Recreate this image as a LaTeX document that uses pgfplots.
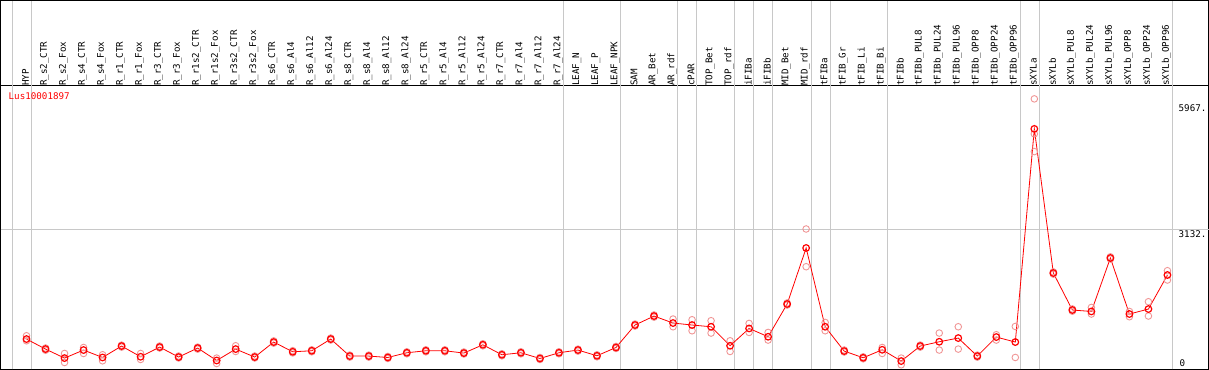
\documentclass[border=0pt]{standalone}
\usepackage{pgfplots}
\pgfplotsset{compat=1.18}
\usepackage{pgfplotstable}
\usepackage{fontspec}
\newfontfamily\mono{DejaVu Sans Mono}
\definecolor{meanred}{RGB}{255,0,0}
\definecolor{reppink}{RGB}{240,150,150}
\definecolor{gridgray}{RGB}{200,200,200}

\pgfplotstableread{
n v
1 652
2 426
3 223
4 404
5 237
6 494
7 253
8 471
9 246
10 449
11 169
12 426
13 246
14 584
15 365
16 388
17 652
18 268
19 268
20 237
21 343
22 388
23 388
24 336
25 523
26 298
27 343
28 214
29 343
30 404
31 275
32 462
33 968
34 1170
35 1013
36 968
37 929
38 501
39 891
40 704
41 1441
42 2704
43 929
44 381
45 230
46 410
47 156
48 494
49 591
50 674
51 268
52 697
53 584
54 5388
55 2140
56 1306
57 1274
58 2479
59 1216
60 1328
61 2095
}\meandata

\pgfplotstableread{
n v
1 726
1 613
2 450
2 400
3 327
3 124
4 462
4 327
5 298
5 162
6 515
6 470
7 327
7 192
8 495
8 450
9 270
9 225
10 470
10 425
11 223
11 101
12 501
12 372
13 270
13 225
14 610
14 560
15 390
15 340
16 410
16 365
17 675
17 630
18 290
18 245
19 290
19 245
20 260
20 215
21 365
21 320
22 410
22 365
23 410
23 365
24 360
24 315
25 545
25 500
26 320
26 275
27 365
27 320
28 237
28 192
29 365
29 320
30 425
30 380
31 297
31 252
32 485
32 440
33 990
33 945
34 1195
34 1145
35 1103
35 929
36 1087
36 839
37 1065
37 787
38 613
38 372
39 1004
39 801
40 801
40 629
41 1465
41 1418
42 3132
42 2282
43 1026
43 839
44 405
44 360
45 252
45 208
46 462
46 327
47 223
47 72
48 516
48 470
49 787
49 404
50 929
50 426
51 290
51 245
52 749
52 629
53 936
53 237
54 6064
54 5275
54 4876
55 2165
55 2115
56 1330
56 1280
57 1364
57 1216
58 2505
58 2455
59 1274
59 1155
60 1493
60 1171
61 2192
61 1982
}\repdata

\begin{document}
\begin{tikzpicture}
\begin{axis}[
  scale only axis,
  width=1207pt, height=283.7pt,
  xmin=-0.368, xmax=63.16,
  ymin=-34, ymax=6364,
  clip=false,
  axis line style={black, line width=1pt},
  major tick length=0pt,
  xtick={1,...,61},
  xticklabels={HYP,R\_s2\_CTR,R\_s2\_Fox,R\_s4\_CTR,R\_s4\_Fox,R\_r1\_CTR,R\_r1\_Fox,R\_r3\_CTR,R\_r3\_Fox,R\_r1s2\_CTR,R\_r1s2\_Fox,R\_r3s2\_CTR,R\_r3s2\_Fox,R\_s6\_CTR,R\_s6\_Al4,R\_s6\_Al12,R\_s6\_Al24,R\_s8\_CTR,R\_s8\_Al4,R\_s8\_Al12,R\_s8\_Al24,R\_r5\_CTR,R\_r5\_Al4,R\_r5\_Al12,R\_r5\_Al24,R\_r7\_CTR,R\_r7\_Al4,R\_r7\_Al12,R\_r7\_Al24,LEAF\_N,LEAF\_P,LEAF\_NPK,SAM,AR\_Bet,AR\_rdf,cPAR,TOP\_Bet,TOP\_rdf,iFIBa,iFIBb,MID\_Bet,MID\_rdf,tFIBa,tFIB\_Gr,tFIB\_Li,tFIB\_Bi,tFIBb,tFIBb\_PUL8,tFIBb\_PUL24,tFIBb\_PUL96,tFIBb\_OPP8,tFIBb\_OPP24,tFIBb\_OPP96,sXYLa,sXYLb,sXYLb\_PUL8,sXYLb\_PUL24,sXYLb\_PUL96,sXYLb\_OPP8,sXYLb\_OPP24,sXYLb\_OPP96},
  xticklabel pos=upper,
  xticklabel style={rotate=90, anchor=west, font=\mono\fontsize{9.2}{9.2}\selectfont, inner sep=1pt, xshift=-1.5pt, yshift=1pt},
  ytick={3132,5967},
  yticklabels={3132.,5967.},
  yticklabel pos=right,
  yticklabel style={anchor=north west, xshift=-31pt, font=\mono\fontsize{9.2}{9.2}\selectfont, inner sep=1pt},
  extra y ticks={3132},
  extra y tick labels={},
  extra y tick style={ymajorgrids=true, major grid style={gridgray, line width=0.8pt}},
]
% vertical group separators (through header too)
\pgfplotsinvokeforeach{0.25,1.25,29.25,32.25,35.25,36.25,38.25,39.25,40.25,42.25,43.25,46.25,53.25,54.25,61.25}{
  \draw[gridgray, line width=0.8pt] ({axis cs:#1,0}|-{rel axis cs:0,0}) -- ({axis cs:#1,0}|-{rel axis cs:0,1.2996});
}
% header frame
\draw[black, line width=1pt] (rel axis cs:0,1) -- (rel axis cs:0,1.2996) -- (rel axis cs:1,1.2996) -- (rel axis cs:1,1);
\node[anchor=north west, text=meanred, font=\mono\fontsize{9.2}{9.2}\selectfont, inner sep=0pt] at ([xshift=8pt,yshift=-7pt]rel axis cs:0,1) {Lus10001897};
\node[anchor=south west, font=\mono\fontsize{9.2}{9.2}\selectfont, inner sep=0pt] at ([xshift=-29pt,yshift=3pt]rel axis cs:1,0) {0};

\addplot[only marks, mark=o, mark size=3.3pt, reppink, mark options={line width=0.9pt}] table[x=n, y=v] {\repdata};
\addplot[meanred, line width=0.8pt, mark=o, mark size=3.3pt, mark options={line width=1.2pt}] table[x=n, y=v] {\meandata};
\end{axis}
\end{tikzpicture}
\end{document}
